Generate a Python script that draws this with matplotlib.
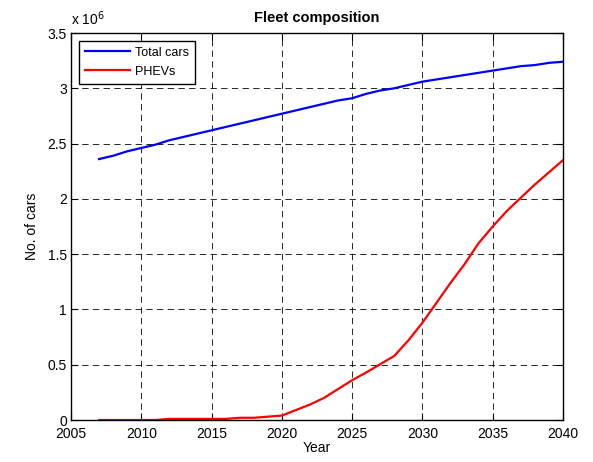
import matplotlib
matplotlib.use("Agg")
import matplotlib.pyplot as plt
from matplotlib.ticker import FuncFormatter, MultipleLocator
import numpy as np

# fleet projection, one value per year (millions of cars)
years = np.arange(2007, 2041)
total_cars = [2.36, 2.39, 2.43, 2.46, 2.49, 2.53, 2.56, 2.59, 2.62, 2.65,
              2.68, 2.71, 2.74, 2.77, 2.80, 2.83, 2.86, 2.89, 2.91, 2.95,
              2.98, 3.00, 3.03, 3.06, 3.08, 3.10, 3.12, 3.14, 3.16, 3.18,
              3.20, 3.21, 3.23, 3.24]
phevs = [0.0, 0.0, 0.0, 0.0, 0.0, 0.01, 0.01, 0.01, 0.01, 0.01,
         0.02, 0.02, 0.03, 0.04, 0.09, 0.14, 0.20, 0.28, 0.36, 0.43,
         0.505, 0.58, 0.72, 0.88, 1.06, 1.24, 1.41, 1.60, 1.75, 1.89,
         2.01, 2.13, 2.24, 2.35]

plt.rcParams["font.family"] = ["Liberation Sans", "DejaVu Sans"]

fig = plt.figure(figsize=(5.93, 4.62), dpi=100)
ax = fig.add_axes([71 / 593, 42 / 462, 492 / 593, 387 / 462])

ax.plot(years, np.array(total_cars) * 1e6, color=(0, 0, 1), linewidth=1.6, label="Total cars")
ax.plot(years, np.array(phevs) * 1e6, color=(1, 0, 0), linewidth=1.6, label="PHEVs")

ax.set_xlim(2005, 2040)
ax.set_ylim(0, 3.5e6)
ax.xaxis.set_major_locator(MultipleLocator(5))
ax.yaxis.set_major_locator(MultipleLocator(0.5e6))
ax.yaxis.set_major_formatter(FuncFormatter(lambda v, p: "%g" % (v / 1e6)))

ax.grid(True, color="black", linestyle=(0, (6.5, 4.5)), linewidth=0.7, alpha=0.85)
ax.tick_params(direction="in", length=5, width=0.8, top=True, right=True,
               labelsize=10, colors="black")
ax.tick_params(axis="x", pad=5)
ax.tick_params(axis="y", pad=3)
for s in ax.spines.values():
    s.set_linewidth(1.0)

ax.set_xlabel("Year", fontsize=10, labelpad=0)
ax.set_ylabel("No. of cars", fontsize=10, labelpad=6)
ax.set_title("Fleet composition", fontsize=10.5, fontweight="bold", pad=8)

# exponent label above the y axis
ax.text(0.0, 1.012, r"x 10$^{6}$", transform=ax.transAxes, fontsize=10,
        ha="left", va="bottom")

leg = ax.legend(loc="upper left", fontsize=9, fancybox=False, framealpha=1,
                edgecolor="black", borderaxespad=0.6, handlelength=3.6,
                handletextpad=0.4, borderpad=0.5, labelspacing=0.55)
leg.get_frame().set_linewidth(1.0)

fig.savefig("out.png", dpi=100)
